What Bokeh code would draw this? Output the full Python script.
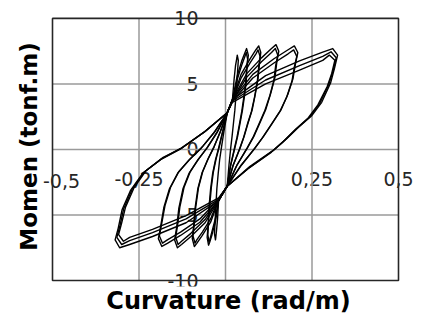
from bokeh.plotting import figure
from bokeh.models import LinearAxis, FixedTicker, Range1d, Label
from bokeh.embed import file_html
from bokeh.resources import INLINE

# ---------------- data ----------------
x_ticks = [-0.5, -0.25, 0.0, 0.25, 0.5]
x_tick_labels = ["-0,5", "-0,25", "", "0,25", "0,5"]
y_ticks = [-10, -5, 0, 5, 10]
y_tick_labels = ["-10", "-5", "0", "5", "10"]

# loop 1 (smallest amplitude)
curv_l1_c1 = [0.005, 0.02, 0.025, 0.029, 0.033, 0.034, 0.037, 0.035, 0.033, 0.030, 0.027, 0.023, 0.019, 0.015, 0.010, 0.005,
              -0.02, -0.023, -0.026, -0.028, -0.029, -0.032, -0.030, -0.028, -0.025, -0.021, -0.017, -0.012, -0.005, 0.005]
mom_l1_c1 = [2.8, 3.8, 5.4, 6.4, 7.0, 7.2, 6.8, 6.0, 5.0, 4.0, 3.0, 2.0, 1.0, 0.1, -1.2, -2.8,
             -3.9, -5.3, -6.2, -6.7, -6.9, -6.4, -5.5, -4.4, -3.0, -1.8, -0.8, 0.1, 1.3, 2.8]

# loop 2
curv_l2_c1 = [0.005, 0.02, 0.034, 0.047, 0.057, 0.061, 0.066, 0.062, 0.060, 0.055, 0.049, 0.042, 0.035, 0.027, 0.015, 0.005,
              -0.02, -0.029, -0.039, -0.046, -0.049, -0.053, -0.050, -0.048, -0.043, -0.037, -0.029, -0.020, -0.009, 0.005]
mom_l2_c1 = [2.8, 3.8, 5.63, 6.76, 7.43, 7.7, 7.2, 6.3, 5.2, 4.1, 3.0, 2.0, 1.0, 0.1, -1.2, -2.8,
             -3.9, -5.5, -6.5, -7.1, -7.3, -6.7, -5.7, -4.5, -3.0, -1.8, -0.8, 0.1, 1.3, 2.8]
curv_l2_c2 = [0.005, 0.02, 0.034, 0.047, 0.056, 0.060, 0.064, 0.061, 0.058, 0.053, 0.047, 0.040, 0.033, 0.025, 0.014, 0.005,
              -0.02, -0.029, -0.039, -0.045, -0.048, -0.051, -0.049, -0.046, -0.041, -0.035, -0.027, -0.018, -0.008, 0.005]
mom_l2_c2 = [2.8, 3.7, 5.35, 6.45, 7.1, 7.4, 6.9, 6.1, 5.0, 4.0, 2.9, 1.9, 0.9, 0.0, -1.3, -2.8,
             -3.8, -5.25, -6.25, -6.85, -7.05, -6.5, -5.5, -4.4, -2.9, -1.7, -0.7, 0.2, 1.35, 2.8]

# loop 3
curv_l3_c1 = [0.005, 0.02, 0.045, 0.071, 0.088, 0.096, 0.102, 0.098, 0.094, 0.086, 0.077, 0.065, 0.054, 0.042, 0.022, 0.005,
              -0.02, -0.043, -0.067, -0.083, -0.090, -0.096, -0.092, -0.088, -0.080, -0.068, -0.052, -0.035, -0.016, 0.005]
mom_l3_c1 = [2.8, 3.8, 5.73, 6.92, 7.61, 7.9, 7.4, 6.5, 5.4, 4.2, 3.0, 2.0, 1.0, 0.1, -1.2, -2.8,
             -3.9, -5.55, -6.56, -7.16, -7.4, -6.8, -5.8, -4.5, -3.0, -1.8, -0.8, 0.1, 1.3, 2.8]
curv_l3_c2 = [0.005, 0.02, 0.045, 0.071, 0.088, 0.094, 0.100, 0.096, 0.092, 0.084, 0.075, 0.063, 0.052, 0.040, 0.021, 0.005,
              -0.02, -0.043, -0.067, -0.083, -0.088, -0.094, -0.090, -0.086, -0.078, -0.066, -0.050, -0.033, -0.015, 0.005]
mom_l3_c2 = [2.8, 3.7, 5.45, 6.6, 7.3, 7.6, 7.1, 6.3, 5.2, 4.0, 2.9, 1.9, 0.9, 0.0, -1.3, -2.8,
             -3.8, -5.3, -6.3, -6.9, -7.15, -6.6, -5.6, -4.4, -2.9, -1.7, -0.7, 0.2, 1.35, 2.8]

# loop 4
curv_l4_c1 = [0.005, 0.02, 0.061, 0.104, 0.133, 0.146, 0.154, 0.148, 0.143, 0.131, 0.117, 0.099, 0.082, 0.063, 0.033, 0.005,
              -0.02, -0.059, -0.100, -0.127, -0.139, -0.147, -0.141, -0.135, -0.123, -0.105, -0.080, -0.054, -0.025, 0.005]
mom_l4_c1 = [2.8, 3.8, 5.77, 6.99, 7.71, 8.0, 7.5, 6.6, 5.5, 4.3, 3.1, 2.0, 1.0, 0.1, -1.2, -2.8,
             -3.9, -5.59, -6.64, -7.25, -7.5, -6.9, -5.9, -4.5, -3.0, -1.8, -0.8, 0.1, 1.3, 2.8]
curv_l4_c2 = [0.005, 0.02, 0.061, 0.104, 0.133, 0.144, 0.151, 0.145, 0.140, 0.128, 0.114, 0.096, 0.079, 0.060, 0.031, 0.005,
              -0.02, -0.059, -0.100, -0.127, -0.137, -0.144, -0.138, -0.132, -0.120, -0.102, -0.077, -0.051, -0.023, 0.005]
mom_l4_c2 = [2.8, 3.7, 5.5, 6.7, 7.4, 7.7, 7.2, 6.4, 5.3, 4.1, 3.0, 1.9, 0.9, 0.0, -1.3, -2.8,
             -3.8, -5.35, -6.4, -7.0, -7.25, -6.7, -5.7, -4.4, -2.9, -1.7, -0.7, 0.2, 1.35, 2.8]

# loop 5
curv_l5_c1 = [0.005, 0.02, 0.079, 0.140, 0.181, 0.199, 0.209, 0.202, 0.195, 0.180, 0.160, 0.135, 0.110, 0.085, 0.045, 0.005,
              -0.02, -0.074, -0.130, -0.168, -0.184, -0.194, -0.187, -0.178, -0.162, -0.138, -0.105, -0.070, -0.033, 0.005]
mom_l5_c1 = [2.8, 3.8, 5.73, 6.92, 7.61, 7.9, 7.4, 6.5, 5.4, 4.2, 3.0, 2.0, 1.0, 0.1, -1.2, -2.8,
             -3.9, -5.55, -6.56, -7.16, -7.4, -6.8, -5.8, -4.4, -3.0, -1.8, -0.8, 0.1, 1.3, 2.8]
curv_l5_c2 = [0.005, 0.02, 0.079, 0.140, 0.181, 0.197, 0.206, 0.199, 0.192, 0.177, 0.157, 0.132, 0.107, 0.082, 0.043, 0.005,
              -0.02, -0.074, -0.130, -0.168, -0.182, -0.191, -0.184, -0.175, -0.159, -0.135, -0.102, -0.067, -0.031, 0.005]
mom_l5_c2 = [2.8, 3.7, 5.45, 6.6, 7.3, 7.6, 7.1, 6.3, 5.2, 4.0, 2.9, 1.9, 0.9, 0.0, -1.3, -2.8,
             -3.8, -5.3, -6.3, -6.9, -7.15, -6.6, -5.6, -4.3, -2.9, -1.7, -0.7, 0.2, 1.35, 2.8]

# loop 6 (largest amplitude)
curv_l6_c1 = [0.005, 0.02, 0.116, 0.214, 0.281, 0.310, 0.324, 0.315, 0.304, 0.278, 0.250, 0.211, 0.176, 0.141, 0.070, 0.005,
              -0.02, -0.114, -0.211, -0.277, -0.306, -0.319, -0.310, -0.299, -0.274, -0.239, -0.189, -0.132, -0.063, 0.005]
mom_l6_c1 = [2.8, 3.8, 5.63, 6.76, 7.43, 7.7, 7.2, 6.2, 5.1, 3.6, 2.6, 1.7, 0.8, 0.0, -1.3, -2.8,
             -3.9, -5.59, -6.64, -7.25, -7.5, -6.9, -6.0, -4.6, -3.1, -1.8, -0.8, 0.0, 1.3, 2.8]
curv_l6_c2 = [0.005, 0.02, 0.116, 0.214, 0.281, 0.305, 0.320, 0.311, 0.299, 0.272, 0.244, 0.206, 0.171, 0.137, 0.068, 0.005,
              -0.02, -0.114, -0.211, -0.277, -0.300, -0.314, -0.305, -0.294, -0.269, -0.234, -0.184, -0.128, -0.060, 0.005]
mom_l6_c2 = [2.8, 3.7, 5.3, 6.4, 7.1, 7.45, 7.0, 6.0, 5.0, 3.5, 2.5, 1.6, 0.7, -0.1, -1.4, -2.8,
             -3.8, -5.3, -6.35, -6.95, -7.25, -6.7, -5.8, -4.5, -3.0, -1.7, -0.7, 0.1, 1.35, 2.8]
curv_l6_c3 = [0.005, 0.02, 0.116, 0.214, 0.281, 0.300, 0.316, 0.307, 0.294, 0.267, 0.239, 0.201, 0.167, 0.133, 0.066, 0.005,
              -0.02, -0.114, -0.211, -0.277, -0.295, -0.309, -0.300, -0.289, -0.264, -0.229, -0.180, -0.124, -0.058, 0.005]
mom_l6_c3 = [2.8, 3.6, 5.0, 6.05, 6.8, 7.2, 6.8, 5.8, 4.8, 3.4, 2.4, 1.5, 0.6, -0.2, -1.45, -2.8,
             -3.7, -5.05, -6.1, -6.7, -7.0, -6.5, -5.6, -4.4, -2.9, -1.6, -0.6, 0.15, 1.4, 2.8]

curv_series = [curv_l1_c1, curv_l2_c1, curv_l2_c2, curv_l3_c1, curv_l3_c2, curv_l4_c1, curv_l4_c2,
               curv_l5_c1, curv_l5_c2, curv_l6_c1, curv_l6_c2, curv_l6_c3]
mom_series = [mom_l1_c1, mom_l2_c1, mom_l2_c2, mom_l3_c1, mom_l3_c2, mom_l4_c1, mom_l4_c2,
              mom_l5_c1, mom_l5_c2, mom_l6_c1, mom_l6_c2, mom_l6_c3]

# ---------------- figure ----------------
# The plotting frame is a little larger than the [-0.5, 0.5] x [-10, 10] box so that
# the tick labels that overhang the box are not clipped; the box itself is drawn below.
W, H = 415, 317
FL, FR, FT, FB = 41, 0, 6, 29          # frame borders (px)
BL, BR, BT, BB = 52, 398, 18, 282      # box edges (px, figure coords)
xpx = (BR - BL) / (x_ticks[-1] - x_ticks[0])
ypx = (BB - BT) / (y_ticks[-1] - y_ticks[0])
x_range = Range1d(x_ticks[0] - (BL - FL) / xpx, x_ticks[-1] + (W - FR - BR) / xpx)
y_range = Range1d(y_ticks[0] - (H - FB - BB) / ypx, y_ticks[-1] + (BT - FT) / ypx)

p = figure(width=W, height=H, x_range=x_range, y_range=y_range,
           output_backend="svg", toolbar_location=None,
           min_border_left=FL, min_border_right=FR, min_border_top=FT, min_border_bottom=FB)
p.background_fill_color = "white"
p.border_fill_color = "white"
p.outline_line_color = None
p.grid.visible = False

# title-only axes
for ax, lab, size, so in ((p.xaxis, "Curvature (rad/m)", "24px", 0), (p.yaxis, "Momen (tonf.m)", "23px", 0)):
    ax.ticker = FixedTicker(ticks=[])
    ax.axis_label = lab
    ax.axis_line_color = None
    ax.major_tick_line_color = None
    ax.minor_tick_line_color = None
    ax.major_tick_out = 0
    ax.minor_tick_out = 0
    ax.axis_label_text_font = "DejaVu Sans"
    ax.axis_label_text_font_style = "bold"
    ax.axis_label_text_font_size = size
    ax.axis_label_text_color = "black"
    ax.axis_label_standoff = so

# gridlines inside the box
grid_x = x_ticks[1:-1]
grid_y = y_ticks[1:-1]
p.segment(x0=grid_x, y0=[y_ticks[0]] * len(grid_x), x1=grid_x, y1=[y_ticks[-1]] * len(grid_x),
          line_color="#9a9a9a", line_width=1.5)
p.segment(x0=[x_ticks[0]] * len(grid_y), y0=grid_y, x1=[x_ticks[-1]] * len(grid_y), y1=grid_y,
          line_color="#9a9a9a", line_width=1.5)

label_style = dict(axis_line_color=None, major_tick_line_color=None, minor_tick_line_color=None,
                   major_tick_out=0, minor_tick_out=0,
                   major_label_text_font="DejaVu Sans", major_label_text_font_size="19px",
                   major_label_text_color="#262626", level="underlay")

# x tick labels along the zero line
x_over = {t: s for t, s in zip(x_ticks, x_tick_labels)}
xlab = LinearAxis(fixed_location=0, ticker=FixedTicker(ticks=x_ticks[1:]), major_label_overrides=x_over,
                  major_label_standoff=23, **label_style)
p.add_layout(xlab, "below")
# leftmost label sits just right of the y-axis title
p.add_layout(Label(x=x_ticks[0], y=0, text=x_tick_labels[0], x_offset=9, y_offset=-32,
                   text_align="center", text_baseline="middle",
                   text_font="DejaVu Sans", text_font_size="19px", text_color="#262626"))

# y tick labels along the zero line
ylab = LinearAxis(fixed_location=0, ticker=FixedTicker(ticks=y_ticks),
                  major_label_overrides={t: s for t, s in zip(y_ticks, y_tick_labels)},
                  major_label_standoff=27, **label_style)
p.add_layout(ylab, "left")

# hysteresis loops
for xs, ms in zip(curv_series, mom_series):
    p.line(xs, ms, line_color="black", line_width=1.4, line_join="round")

# plot box
p.quad(left=x_ticks[0], right=x_ticks[-1], bottom=y_ticks[0], top=y_ticks[-1],
       fill_color=None, line_color="#262626", line_width=1.6)

open("out.html", "w").write(file_html(p, INLINE))
